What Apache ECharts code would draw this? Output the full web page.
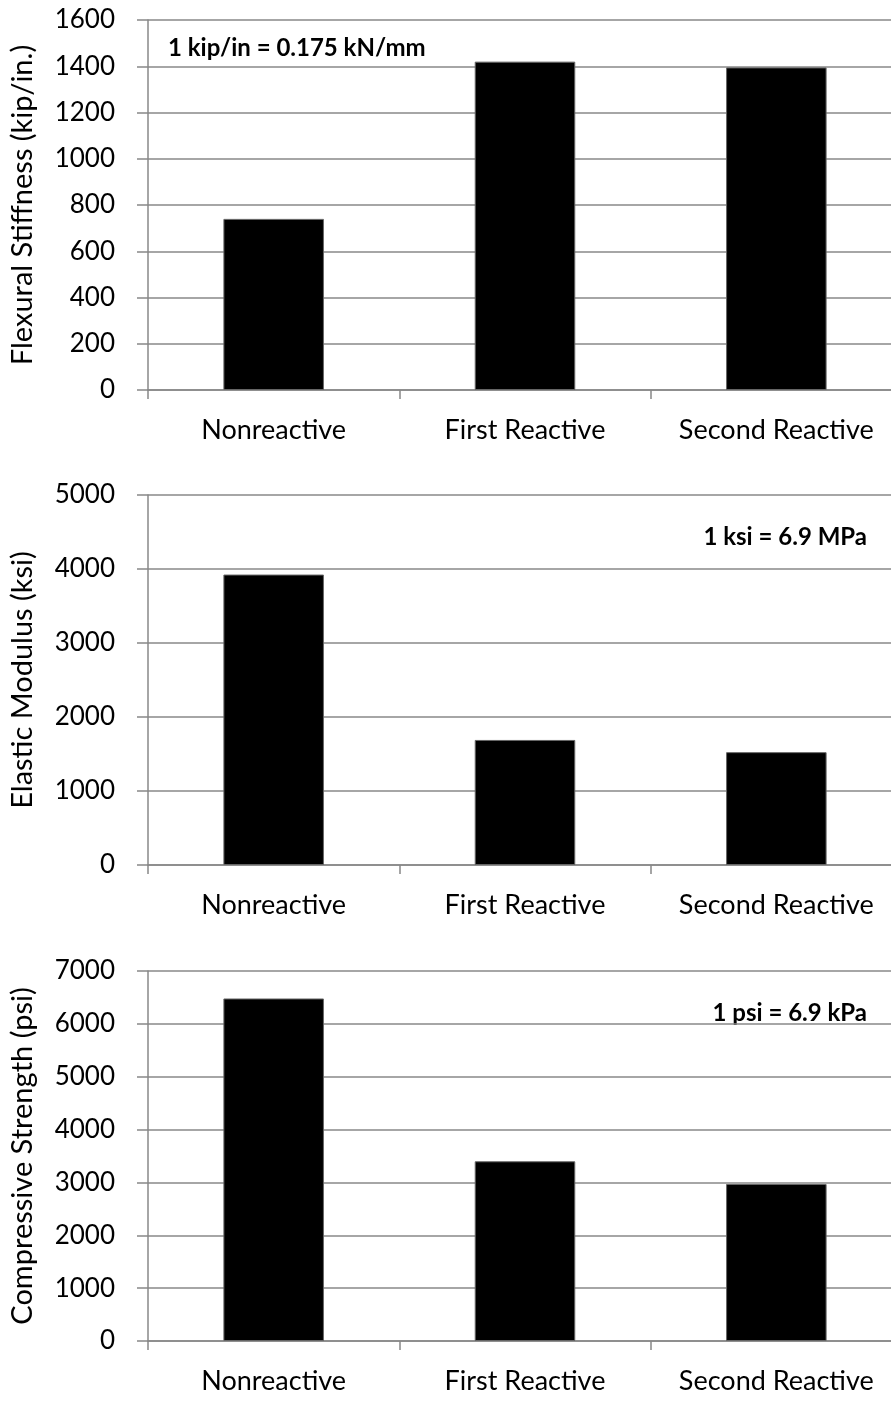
<!DOCTYPE html>
<html><head><meta charset="utf-8">
<script src="https://cdn.jsdelivr.net/npm/echarts@6/dist/echarts.min.js"></script>
<style>html,body{margin:0;padding:0;background:#fff;overflow:hidden}#c{width:912px;height:1401px}</style>
</head><body><div id="c"></div>
<script>
const categories = ['Nonreactive', 'First Reactive', 'Second Reactive'];
const stiffness = [740, 1420, 1395];
const modulus = [3925, 1690, 1525];
const strength = [6480, 3400, 2970];
const titles = ['Flexural Stiffness (kip/in.)', 'Elastic Modulus (ksi)', 'Compressive Strength (psi)'];
const yMax = [1600, 5000, 7000];
const yStep = [200, 1000, 1000];
const notes = ['1 kip/in = 0.175 kN/mm', '1 ksi = 6.9 MPa', '1 psi = 6.9 kPa'];
const seriesData = [stiffness, modulus, strength];

const FONT = 'Lato, "Open Sans", sans-serif';
const tops = [20, 495, 971];
const H = 370;
const gridColor = '#888888';

const chart = echarts.init(document.getElementById('c'));
const grids = [], xAxes = [], yAxes = [], series = [], graphics = [];
for (let i = 0; i < 3; i++) {
  grids.push({left: 146, width: 756, top: tops[i], height: H, containLabel: false});
  xAxes.push({
    type: 'category', gridIndex: i, data: categories,
    axisLine: {lineStyle: {color: gridColor, width: 1.5}},
    axisTick: {show: true, length: 9, alignWithLabel: false, lineStyle: {color: gridColor, width: 1.5}},
    axisLabel: {color: '#000', fontFamily: FONT, fontSize: 27, margin: 27, interval: 0}
  });
  yAxes.push({
    type: 'value', gridIndex: i, min: 0, max: yMax[i], interval: yStep[i],
    name: titles[i], nameLocation: 'middle', nameGap: 111, nameRotate: 90,
    nameTextStyle: {color: '#000', fontFamily: FONT, fontSize: 29},
    axisLine: {show: true, lineStyle: {color: gridColor, width: 1.5}},
    axisTick: {show: true, length: 11, lineStyle: {color: gridColor, width: 1.5}},
    axisLabel: {color: '#000', fontFamily: FONT, fontSize: 26, margin: 33, formatter: v => String(v)},
    splitLine: {show: true, lineStyle: {color: gridColor, width: 1.5}}
  });
  series.push({
    type: 'bar', xAxisIndex: i, yAxisIndex: i, data: seriesData[i], barWidth: '40%',
    itemStyle: {color: '#000', borderColor: '#666', borderWidth: 1}
  });
}
const noteFont = 'bold 24px ' + FONT;
graphics.push({type: 'text', x: 168, y: 48, style: {text: notes[0], font: noteFont, fill: '#000', textAlign: 'left', textVerticalAlign: 'middle'}});
graphics.push({type: 'text', x: 867, y: 537, style: {text: notes[1], font: noteFont, fill: '#000', textAlign: 'right', textVerticalAlign: 'middle'}});
graphics.push({type: 'text', x: 867, y: 1013, style: {text: notes[2], font: noteFont, fill: '#000', textAlign: 'right', textVerticalAlign: 'middle'}});

chart.setOption({
  animation: false,
  grid: grids, xAxis: xAxes, yAxis: yAxes, series: series, graphic: graphics
});
</script></body></html>
